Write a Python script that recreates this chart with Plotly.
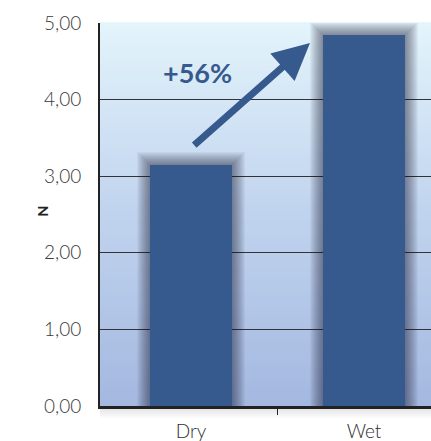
import plotly.graph_objects as go

categories = ["Dry", "Wet"]
values = [3.15, 4.84]
ytick_vals = [0, 1, 2, 3, 4, 5]
ytick_text = ["0,00", "1,00", "2,00", "3,00", "4,00", "5,00"]
change_label = "+56%"

BAR = "#375a8e"
W, H = 431, 441
L, R, T, B = 100, 0, 23, 35
pw = W - L - R
ph = H - T - B
cat_px = 173.0
xr = [-(191 - L) / cat_px, (W - R - 191) / cat_px]
y_px = ph / 5.0
bar_w = 82 / cat_px

fig = go.Figure()

# soft shadow layers behind bars
for ext in range(13, 0, -1):
    fig.add_trace(go.Bar(
        x=categories, y=[v + ext / y_px for v in values],
        width=bar_w + 2 * ext / cat_px,
        marker=dict(color="rgba(20,30,50,0.045)", line=dict(width=0)),
        hoverinfo="skip", showlegend=False))

fig.add_trace(go.Bar(x=categories, y=values, width=bar_w,
                     marker=dict(color=BAR, line=dict(width=0)),
                     showlegend=False))

# vertical gradient background
top = (227, 244, 251)
mid = (192, 211, 238)
bot = (164, 184, 224)
n = 80
shapes = []
for i in range(n):
    f = (i + 0.5) / n  # 0 bottom -> 1 top
    if f < 0.5:
        g = f / 0.5
        c = [bot[j] + (mid[j] - bot[j]) * g for j in range(3)]
    else:
        g = (f - 0.5) / 0.5
        c = [mid[j] + (top[j] - mid[j]) * g for j in range(3)]
    shapes.append(dict(type="rect", xref="paper", yref="paper",
                       x0=0, x1=1, y0=i / n, y1=(i + 1) / n + 0.002,
                       fillcolor="rgb(%d,%d,%d)" % tuple(int(round(v)) for v in c),
                       line=dict(width=0), layer="below"))
# shadow below x axis
for k in range(6):
    shapes.append(dict(type="rect", xref="paper", yref="paper",
                       x0=0, x1=1, y0=-(k + 1) * 2 / ph, y1=0,
                       fillcolor="rgba(0,0,0,0.02)", line=dict(width=0), layer="below"))
# category boundary tick
shapes.append(dict(type="line", xref="x", yref="paper", x0=0.5, x1=0.5,
                   y0=0, y1=-9 / ph, line=dict(color="#222", width=1)))

fig.update_layout(
    width=W, height=H,
    margin=dict(l=L, r=R, t=T, b=B, pad=0),
    paper_bgcolor="white", plot_bgcolor="white",
    barmode="overlay", bargap=0,
    shapes=shapes,
    font=dict(family="Lato, sans-serif", color="#333"),
    xaxis=dict(type="category", range=xr, showgrid=False, ticks="",
               showline=True, linecolor="#222", linewidth=3,
               tickfont=dict(size=19, color="#2e2e2e", weight=300), ticklabelstandoff=6,
               zeroline=False),
    yaxis=dict(range=[0, 5], tickvals=ytick_vals, ticktext=ytick_text,
               showgrid=True, gridcolor="#333", gridwidth=1,
               showline=True, linecolor="#222", linewidth=2,
               ticks="", tickfont=dict(size=19, color="#3a3a3a", weight=300),
               ticklabelstandoff=13, zeroline=False),
    annotations=[
        dict(x=0.688, y=4.74, ax=0.01, ay=3.39, xref="x", yref="y",
             axref="x", ayref="y", text="", showarrow=True,
             arrowhead=2, arrowsize=1.05, arrowwidth=7, arrowcolor=BAR),
        dict(x=0.04, y=4.36, xref="x", yref="y", text="<b>" + change_label + "</b>",
             showarrow=False, font=dict(size=27, color=BAR, family="Lato, sans-serif")),
        dict(x=(31 - L) / pw, y=(H - B - 211) / ph, xref="paper", yref="paper",
             text="<b>N</b>", textangle=-90, showarrow=False,
             font=dict(size=14, color="#222", family="Lato, sans-serif")),
    ],
)

fig.write_html("out.html")
